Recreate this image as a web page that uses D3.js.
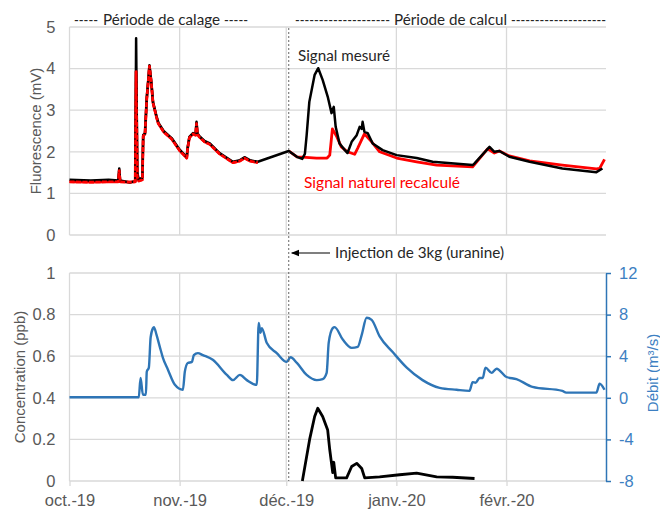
<!DOCTYPE html>
<html><head><meta charset="utf-8">
<script src="https://cdn.jsdelivr.net/npm/d3@7"></script>
<style>body{margin:0;background:#fff}svg{display:block}</style>
</head><body><svg id="c" width="660" height="510"></svg>
<script>
const monthLabels = ["oct.-19","nov.-19","déc.-19","janv.-20","févr.-20"];
const monthStarts = ["2019-10-01 00","2019-11-01 00","2019-12-01 00","2020-01-01 00","2020-02-01 00"];
const xDomain = ["2019-10-01 00","2020-02-29 00"];
const fluoTicks = [0,1,2,3,4,5];
const concTicks = [0,0.2,0.4,0.6,0.8,1];
const debitTicks = [-8,-4,0,4,8,12];
const injectionDate = "2019-12-01 17";

// Signal mesuré (mV)
const mesure = [
["2019-10-01 00",1.33],["2019-10-07 00",1.31],["2019-10-12 00",1.33],["2019-10-14 18",1.31],
["2019-10-15 00",1.6],["2019-10-15 06",1.31],["2019-10-18 00",1.26],["2019-10-19 12",1.30],
["2019-10-19 18",4.73],["2019-10-20 02",1.5],["2019-10-20 12",1.33],["2019-10-21 12",1.38],
["2019-10-21 18",2.4],["2019-10-22 06",2.45],["2019-10-22 18",3.3],["2019-10-23 06",3.8],
["2019-10-23 12",4.08],["2019-10-24 00",3.7],["2019-10-24 12",3.2],["2019-10-25 12",2.85],
["2019-10-26 00",2.7],["2019-10-27 12",2.5],["2019-10-29 18",2.33],["2019-11-01 00",2.05],
["2019-11-03 00",1.87],["2019-11-03 06",2.1],["2019-11-03 18",2.36],["2019-11-04 18",2.45],
["2019-11-05 12",2.42],["2019-11-05 18",2.72],["2019-11-06 00",2.45],["2019-11-06 12",2.38],
["2019-11-08 00",2.26],["2019-11-09 12",2.2],["2019-11-12 06",1.97],["2019-11-16 00",1.76],
["2019-11-18 00",1.8],["2019-11-19 06",1.87],["2019-11-20 18",1.8],["2019-11-23 00",1.76],
["2019-12-01 17",2.02],["2019-12-04 00",1.88],["2019-12-05 12",1.83],["2019-12-06 06",1.95],
["2019-12-06 18",2.4],["2019-12-07 12",3.2],["2019-12-09 00",3.85],["2019-12-10 00",4.01],
["2019-12-11 06",3.73],["2019-12-12 18",3.3],["2019-12-13 18",2.93],["2019-12-14 00",3.0],
["2019-12-14 09",3.08],["2019-12-14 22",2.6],["2019-12-16 00",2.2],["2019-12-17 12",2.04],
["2019-12-18 06",1.97],["2019-12-19 10",2.24],["2019-12-20 20",2.4],["2019-12-21 16",2.6],
["2019-12-22 06",2.55],["2019-12-22 12",2.72],["2019-12-23 00",2.48],["2019-12-23 22",2.45],
["2019-12-25 08",2.2],["2019-12-28 03",2.04],["2020-01-01 02",1.92],["2020-01-06 17",1.85],
["2020-01-11 05",1.76],["2020-01-22 11",1.68],["2020-01-23 00",1.72],["2020-01-27 05",2.12],
["2020-01-28 14",2.0],["2020-01-30 00",2.02],["2020-02-01 19",1.88],["2020-02-07 12",1.76],
["2020-02-16 17",1.6],["2020-02-26 07",1.51],["2020-02-28 00",1.6]
];

// Signal naturel recalculé (mV)
const naturel = [
["2019-10-01 00",1.28],["2019-10-07 00",1.27],["2019-10-12 00",1.28],["2019-10-14 18",1.28],
["2019-10-15 00",1.55],["2019-10-15 06",1.28],["2019-10-18 00",1.27],["2019-10-19 12",1.28],
["2019-10-19 18",3.93],["2019-10-20 02",1.4],["2019-10-20 12",1.3],["2019-10-21 12",1.33],
["2019-10-21 18",2.38],["2019-10-22 06",2.43],["2019-10-22 18",3.28],["2019-10-23 06",3.78],
["2019-10-23 12",4.06],["2019-10-24 00",3.68],["2019-10-24 12",3.18],["2019-10-25 12",2.83],
["2019-10-26 00",2.68],["2019-10-27 12",2.48],["2019-10-29 18",2.31],["2019-11-01 00",2.03],
["2019-11-03 00",1.85],["2019-11-03 06",2.08],["2019-11-03 18",2.34],["2019-11-04 18",2.43],
["2019-11-05 12",2.4],["2019-11-05 18",2.68],["2019-11-06 00",2.43],["2019-11-06 12",2.36],
["2019-11-08 00",2.24],["2019-11-09 12",2.18],["2019-11-12 06",1.95],["2019-11-16 00",1.74],
["2019-11-18 00",1.78],["2019-11-19 06",1.85],["2019-11-20 18",1.78],["2019-11-23 00",1.74],
["2019-11-27 00",null],
["2019-12-01 17",2.02],["2019-12-04 00",1.88],["2019-12-05 12",1.87],["2019-12-09 12",1.85],
["2019-12-12 12",1.85],["2019-12-13 06",1.92],["2019-12-14 00",2.55],["2019-12-15 06",2.36],
["2019-12-16 12",2.12],["2019-12-18 06",2.0],["2019-12-20 06",1.94],["2019-12-21 03",2.09],
["2019-12-23 00",2.43],["2019-12-25 01",2.24],["2019-12-27 07",2.0],["2020-01-01 02",1.85],
["2020-01-06 17",1.76],["2020-01-12 08",1.68],["2020-01-22 11",1.64],["2020-01-26 16",2.07],
["2020-01-28 14",1.97],["2020-01-30 00",2.02],["2020-02-01 19",1.9],["2020-02-07 12",1.78],
["2020-02-16 17",1.68],["2020-02-26 07",1.59],["2020-02-27 05",1.6],["2020-02-28 14",1.82]
];

// Concentration (ppb)
const concentration = [
["2019-12-05 13",0],["2019-12-07 14",0.2],["2019-12-09 00",0.31],["2019-12-09 21",0.35],
["2019-12-11 06",0.31],["2019-12-12 16",0.245],["2019-12-13 06",0.15],["2019-12-14 02",0.04],
["2019-12-14 09",0.09],["2019-12-14 22",0.015],["2019-12-18 00",0.015],["2019-12-19 10",0.07],
["2019-12-20 20",0.085],["2019-12-22 06",0.06],["2019-12-23 02",0.015],["2019-12-27 07",0.02],
["2020-01-01 22",0.03],["2020-01-06 17",0.038],["2020-01-12 08",0.02],["2020-01-16 20",0.018],
["2020-01-23 00",0.012]
];

// Débit (m3/s)
const debit = [
["2019-10-01 00",0.05],["2019-10-20 12",0.05],["2019-10-21 00",1.9],["2019-10-21 16",0.3],
["2019-10-22 12",0.3],["2019-10-22 18",2.5],["2019-10-23 08",2.9],["2019-10-23 20",5.8],
["2019-10-24 12",6.7],["2019-10-24 18",6.8],["2019-10-25 12",6.05],["2019-10-26 10",4.9],
["2019-10-27 07",3.85],["2019-10-28 17",2.7],["2019-10-30 16",1.25],["2019-11-01 22",0.77],
["2019-11-02 11",2.5],["2019-11-03 07",3.35],["2019-11-04 11",3.45],["2019-11-05 00",4.1],
["2019-11-06 03",4.3],["2019-11-07 13",4.1],["2019-11-10 08",3.65],["2019-11-14 07",2.2],
["2019-11-16 00",1.7],["2019-11-17 23",2.2],["2019-11-19 22",1.7],["2019-11-22 17",1.25],
["2019-11-23 06",7.2],["2019-11-23 18",6.25],["2019-11-24 03",6.7],["2019-11-25 12",5.3],
["2019-11-28 08",4.3],["2019-12-01 03",3.45],["2019-12-02 05",3.9],["2019-12-04 00",3.35],
["2019-12-06 18",2.2],["2019-12-09 14",1.7],["2019-12-11 06",1.8],["2019-12-12 09",2.4],
["2019-12-12 23",5.3],["2019-12-14 02",6.7],["2019-12-14 15",6.8],["2019-12-16 22",5.6],
["2019-12-19 10",4.8],["2019-12-21 03",4.9],["2019-12-22 06",6.05],["2019-12-23 15",7.7],
["2019-12-25 01",7.5],["2019-12-27 07",5.9],["2019-12-30 23",4.4],["2020-01-03 22",2.9],
["2020-01-08 09",1.7],["2020-01-13 04",0.96],["2020-01-17 23",0.77],["2020-01-21 14",0.67],
["2020-01-22 11",1.5],["2020-01-23 07",1.45],["2020-01-24 10",1.9],["2020-01-25 07",1.9],
["2020-01-26 02",2.9],["2020-01-27 19",2.4],["2020-01-29 05",2.8],["2020-02-01 00",2.0],
["2020-02-03 19",1.8],["2020-02-08 07",1.05],["2020-02-16 17",0.67],["2020-02-17 19",0.5],
["2020-02-26 07",0.5],["2020-02-27 05",1.35],["2020-02-28 14",0.77]
];

const parse = d3.timeParse("%Y-%m-%d %H");
const svg = d3.select("#c");
const L = 69.5, R = 606;
const x = d3.scaleTime().domain(xDomain.map(parse)).range([L, R]);
const yTop = d3.scaleLinear().domain([0,5]).range([235,27]);
const yConc = d3.scaleLinear().domain([0,1]).range([481,273]);
const yDeb = d3.scaleLinear().domain([-8,12]).range([481,273]);
const months = monthStarts.map(parse);
const grid = "#d9d9d9", txt = "#595959", blue = "#2e75b6", blueTxt = "#3d7fc2";
const tickFont = "'Liberation Sans', Arial, sans-serif";
const noteFont = "Lato, 'Open Sans', sans-serif";

svg.append("rect").attr("width",660).attr("height",510).attr("fill","#fff");

function hGrid(scale, ticks) {
  svg.append("g").selectAll("line").data(ticks).join("line")
    .attr("x1", L).attr("x2", R).attr("y1", d=>scale(d)).attr("y2", d=>scale(d))
    .attr("stroke", grid).attr("stroke-width", 1.3);
}
function vGrid(y0, y1) {
  svg.append("g").selectAll("line").data(months).join("line")
    .attr("x1", d=>x(d)).attr("x2", d=>x(d)).attr("y1", y0).attr("y2", y1)
    .attr("stroke", grid).attr("stroke-width", 1.3);
}
hGrid(yTop, fluoTicks); vGrid(yTop(0), yTop(5));
hGrid(yConc, concTicks); vGrid(yConc(0), yConc(1));

function leftAxis(scale, ticks, fmt) {
  const g = svg.append("g").attr("transform", `translate(${L},0)`)
    .call(d3.axisLeft(scale).tickValues(ticks).tickFormat(fmt).tickSize(0).tickPadding(14));
  g.select(".domain").remove();
  g.selectAll("text").attr("fill", txt).style("font-family", tickFont).style("font-size","16.5px");
}
leftAxis(yTop, fluoTicks, d3.format("d"));
leftAxis(yConc, concTicks, d=> d===0||d===1 ? String(d) : d3.format(".1f")(d));

// bottom x axis
const gx = svg.append("g").attr("transform", `translate(0,${yConc(0)})`)
  .call(d3.axisBottom(x).tickValues(months).tickFormat((d,i)=>monthLabels[i]).tickSize(5).tickSizeOuter(0).tickPadding(8));
gx.select(".domain").remove();
gx.selectAll("line").attr("stroke", grid).attr("stroke-width",1.3);
gx.selectAll("text").attr("fill", txt).style("font-family", tickFont).style("font-size","16.5px");

// right axis
const gr = svg.append("g").attr("transform", `translate(${R},0)`)
  .call(d3.axisRight(yDeb).tickValues(debitTicks).tickFormat(d=>String(d)).tickSize(5).tickSizeOuter(0).tickPadding(8));
gr.select(".domain").attr("stroke", blue).attr("stroke-width",1.5);
gr.selectAll("line").attr("stroke", blue).attr("stroke-width",1.5);
gr.selectAll("text").attr("fill", blueTxt).style("font-family", tickFont).style("font-size","16.5px");

// axis titles
function vTitle(t, cx, cy, color) {
  svg.append("text").attr("transform", `translate(${cx},${cy}) rotate(-90)`)
    .attr("text-anchor","middle").attr("dominant-baseline","central")
    .attr("fill", color).style("font-family", tickFont).style("font-size","15px").text(t);
}
vTitle("Fluorescence (mV)", 35, 131, txt);
vTitle("Concentration (ppb)", 19, 377, txt);
vTitle("Débit (m³/s)", 652, 373, blueTxt);

// lines
const lineTop = d3.line().defined(d=>d[1]!=null).x(d=>x(parse(d[0]))).y(d=>yTop(d[1]));
const calageEnd = parse("2019-11-24 00");
svg.append("path").datum(naturel).attr("d", lineTop).attr("fill","none")
  .attr("stroke","#ff0000").attr("stroke-width",2.8).attr("stroke-linejoin","round");
svg.append("path").datum(mesure).attr("d", lineTop).attr("fill","none")
  .attr("stroke","#000").attr("stroke-width",2.5).attr("stroke-linejoin","round");
svg.append("path").datum(naturel.filter(d=>parse(d[0])<=calageEnd)).attr("d", lineTop).attr("fill","none")
  .attr("stroke","#ff0000").attr("stroke-width",2.6).attr("stroke-dasharray","5,1.5").attr("stroke-linejoin","round");

const lineDeb = d3.line().x(d=>x(parse(d[0]))).y(d=>yDeb(d[1])).curve(d3.curveMonotoneX);
svg.append("path").datum(debit).attr("d", lineDeb).attr("fill","none")
  .attr("stroke", blue).attr("stroke-width",2.4).attr("stroke-linejoin","round");
const lineConc = d3.line().x(d=>x(parse(d[0]))).y(d=>yConc(d[1]));
svg.append("path").datum(concentration).attr("d", lineConc).attr("fill","none")
  .attr("stroke","#000").attr("stroke-width",2.8).attr("stroke-linejoin","round");

// injection line
const xi = x(parse(injectionDate));
svg.append("line").attr("x1", xi).attr("x2", xi).attr("y1", 28).attr("y2", yConc(0))
  .attr("stroke","#666").attr("stroke-width",1).attr("stroke-dasharray","2,2");

// annotations
function note(t, x0, y0, w, color) {
  const el = svg.append("text").attr("x", x0).attr("y", y0).attr("fill", color)
    .style("font-family", noteFont).style("font-size","14.5px").text(t);
  if (w) el.attr("textLength", w).attr("lengthAdjust","spacingAndGlyphs");
  return el;
}
note("-----", 74, 25, 24, "#262626");
note("Période de calage", 103, 25, 117, "#262626");
note("-----", 224, 25, 24, "#262626");
note("--------------------", 295, 25, 95, "#262626");
note("Période de calcul", 394, 25, 113, "#262626");
note("--------------------", 511, 25, 95, "#262626");
note("Signal mesuré", 298, 61, 92, "#262626");
note("Signal naturel recalculé", 304, 188, 156, "#ff0000");
note("Injection de 3kg (uranine)", 335, 258, 169, "#262626");

svg.append("defs").append("marker").attr("id","ah").attr("viewBox","0 0 10 10")
  .attr("refX",9).attr("refY",5).attr("markerWidth",7).attr("markerHeight",7).attr("orient","auto")
  .append("path").attr("d","M0,1 L10,5 L0,9 Z").attr("fill","#000");
svg.append("line").attr("x1", 330).attr("x2", xi+3).attr("y1", 253).attr("y2", 253)
  .attr("stroke","#000").attr("stroke-width",1.2).attr("marker-end","url(#ah)");
</script></body></html>
